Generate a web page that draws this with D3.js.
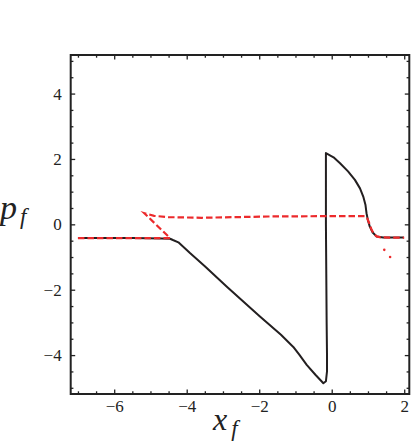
<!DOCTYPE html>
<html>
<head>
<meta charset="utf-8">
<script src="https://cdn.jsdelivr.net/npm/d3@7"></script>
<style>
  body { margin: 0; background: #fff; }
  svg { display: block; }
</style>
</head>
<body>
<div class="canvas"></div>
<script>
// phase-space trajectory (x_f, p_f): solid black and dashed red

const blackX = [-7.0, -5.5, -4.7, -4.46, -4.38, -4.23, -3.91, -3.5, -2.9, -1.98, -1.4, -1.06, -0.9, -0.69, -0.45, -0.23,
                -0.16, -0.13, -0.13, -0.14, -0.15, -0.16, -0.16, -0.16,
                0.05, 0.23, 0.45, 0.64, 0.78, 0.87, 0.93, 0.96, 1.0, 1.05, 1.13, 1.24, 1.42, 1.99];
const blackY = [-0.42, -0.42, -0.43, -0.44, -0.48, -0.55, -0.88, -1.28, -1.9, -2.82, -3.38, -3.75, -3.98, -4.3, -4.6, -4.86,
                -4.8, -4.5, -4.0, -3.0, -1.5, 0, 1.0, 2.18,
                2.05, 1.87, 1.62, 1.36, 1.1, 0.85, 0.6, 0.34, 0.12, -0.07, -0.25, -0.37, -0.4, -0.4];

const redX = [-7.0, -4.46, -5.17, -4.9, -4.51, -3.59, -2.67, -1.75, -0.19, 0.92, 0.98, 1.03, 1.1, 1.17, 1.24, 1.35, 2.0];
const redY = [-0.42, -0.42, 0.34, 0.26, 0.22, 0.2, 0.22, 0.24, 0.25, 0.25, 0.18, 0.05, -0.17, -0.3, -0.37, -0.4, -0.41];

// the stray red dots below the right plateau
const tailX = [1.45, 1.61];
const tailY = [-0.78, -1.0];

const xMajor = [-6, -4, -2, 0, 2];
const yMajor = [-4, -2, 0, 2, 4];

const W = 415, H = 445;
const margin = { top: 55, right: 5.7, bottom: 51, left: 70.7 };
const iw = W - margin.left - margin.right;
const ih = H - margin.top - margin.bottom;
const serif = 'Liberation Serif';

const x = d3.scaleLinear().domain([-7.2, 2.14]).range([0, iw]);
const y = d3.scaleLinear().domain([-5.19, 5.18]).range([ih, 0]);

const svg = d3.select('.canvas').append('svg')
    .attr('width', W)
    .attr('height', H);

const g = svg.append('g')
    .attr('transform', `translate(${margin.left},${margin.top})`);

const fmt = d => d < 0 ? '\u2212' + Math.abs(d) : String(d);
const xMinor = d3.range(-7, 2.01, 0.5).filter(v => !xMajor.includes(v));
const yMinor = d3.range(-5, 5.01, 0.5).filter(v => !yMajor.includes(v));

// ticks all point inward, mirrored on every side
const addAxis = (axisFn, scale, vals, size, labels, tr, pad) => {
    const a = g.append('g')
        .attr('transform', tr)
        .call(axisFn(scale).tickValues(vals).tickSize(-size).tickPadding(labels ? pad : 0)
            .tickFormat(labels ? fmt : ''));
    a.select('.domain').remove();
    a.selectAll('.tick line').attr('stroke', '#222').attr('stroke-width', 1.3);
    a.selectAll('.tick text')
        .attr('fill', '#222')
        .attr('font-family', serif)
        .attr('font-size', 17);
    return a;
};

const xAx = addAxis(d3.axisBottom, x, xMajor, 4.5, true, `translate(0,${ih})`, 5.5);
xAx.selectAll('.tick text').attr('dy', '0.71em');
addAxis(d3.axisBottom, x, xMinor, 2.7, false, `translate(0,${ih})`);
addAxis(d3.axisTop, x, xMajor, 4.5, false, 'translate(0,0)');
addAxis(d3.axisTop, x, xMinor, 2.7, false, 'translate(0,0)');
addAxis(d3.axisLeft, y, yMajor, 4.5, true, 'translate(0,0)', 9);
addAxis(d3.axisLeft, y, yMinor, 2.7, false, 'translate(0,0)');
addAxis(d3.axisRight, y, yMajor, 4.5, false, `translate(${iw},0)`);
addAxis(d3.axisRight, y, yMinor, 2.7, false, `translate(${iw},0)`);

const line = d3.line()
    .x(d => x(d[0]))
    .y(d => y(d[1]));

g.append('path')
    .datum(d3.zip(blackX, blackY))
    .attr('d', line)
    .attr('fill', 'none')
    .attr('stroke', '#231f20')
    .attr('stroke-width', 2)
    .attr('stroke-linejoin', 'round');

g.append('path')
    .datum(d3.zip(redX, redY))
    .attr('d', line)
    .attr('fill', 'none')
    .attr('stroke', '#ec2a2c')
    .attr('stroke-width', 2.2)
    .attr('stroke-dasharray', '6.5,3');

g.selectAll('circle.tail')
    .data(d3.zip(tailX, tailY))
    .join('circle')
    .attr('class', 'tail')
    .attr('cx', d => x(d[0]))
    .attr('cy', d => y(d[1]))
    .attr('r', 1.3)
    .attr('fill', '#ec2a2c');

// frame
g.append('rect')
    .attr('width', iw)
    .attr('height', ih)
    .attr('fill', 'none')
    .attr('stroke', '#222')
    .attr('stroke-width', 2);

// axis labels
const yl = svg.append('text')
    .attr('x', 0).attr('y', 219)
    .attr('font-family', serif).attr('font-style', 'italic').attr('fill', '#222');
yl.append('tspan').attr('font-size', 34).text('p');
yl.append('tspan').attr('font-size', 23).attr('dx', 3).attr('dy', 5).text('f');

const xl = svg.append('text')
    .attr('x', 213).attr('y', 430)
    .attr('font-family', serif).attr('font-style', 'italic').attr('fill', '#222');
xl.append('tspan').attr('font-size', 32).text('x');
xl.append('tspan').attr('font-size', 23).attr('dx', 4).attr('dy', 6).text('f');
</script>
</body>
</html>
